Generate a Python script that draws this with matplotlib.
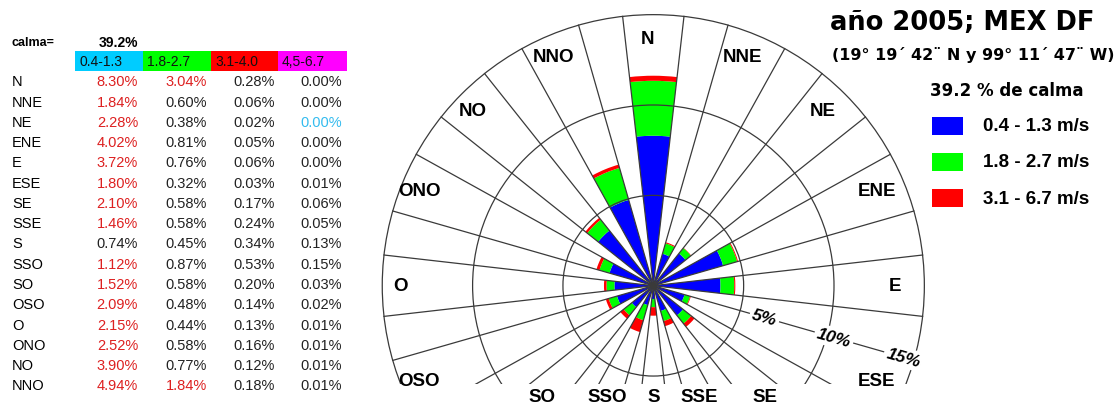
import numpy as np
import matplotlib
matplotlib.use('Agg')
import matplotlib.pyplot as plt
import matplotlib.patches as mpatches
import matplotlib.transforms as mtransforms

# wind data, % of time per direction and speed class
directions = ['N', 'NNE', 'NE', 'ENE', 'E', 'ESE', 'SE', 'SSE',
              'S', 'SSO', 'SO', 'OSO', 'O', 'ONO', 'NO', 'NNO']
class_04_13 = [8.30, 1.84, 2.28, 4.02, 3.72, 1.80, 2.10, 1.46,
               0.74, 1.12, 1.52, 2.09, 2.15, 2.52, 3.90, 4.94]
class_18_27 = [3.04, 0.60, 0.38, 0.81, 0.76, 0.32, 0.58, 0.58,
               0.45, 0.87, 0.58, 0.48, 0.44, 0.58, 0.77, 1.84]
class_31_40 = [0.28, 0.06, 0.02, 0.05, 0.06, 0.03, 0.17, 0.24,
               0.34, 0.53, 0.20, 0.14, 0.13, 0.16, 0.12, 0.18]
class_45_67 = [0.00, 0.00, 0.00, 0.00, 0.00, 0.01, 0.06, 0.05,
               0.13, 0.15, 0.03, 0.02, 0.01, 0.01, 0.01, 0.01]
calma = 39.2
table_header = ['0.4-1.3', '1.8-2.7', '3.1-4.0', '4,5-6.7']
legend_labels = ['0.4 - 1.3 m/s', '1.8 - 2.7 m/s', '3.1 - 6.7 m/s']
rings = [5, 10, 15]

W, H = 1119, 410
fig = plt.figure(figsize=(W / 100, H / 100), dpi=100)
# pixel coords (origin top-left) -> figure
pxt = mtransforms.Affine2D().scale(1 / W, -1 / H).translate(0, 1) + fig.transFigure

RED_TXT = '#dd2020'

# ---- left table ----
fig.text(12, 43, 'calma=', transform=pxt, fontsize=9, fontweight='bold',
         family='Liberation Sans', va='center', ha='left')
fig.text(138, 43, f'{calma:.1f}%', transform=pxt, fontsize=10, fontweight='bold',
         family='Liberation Sans', va='center', ha='right')

cell_cols = ['#00ccff', '#00ff00', '#ff0000', '#ff00ff']
cell_x = [75, 143, 211, 278, 347]
for i, lab in enumerate(table_header):
    fig.patches.append(mpatches.Rectangle((cell_x[i], 72), cell_x[i + 1] - cell_x[i], -20,
                                          transform=pxt, facecolor=cell_cols[i],
                                          edgecolor='none'))
    fig.text(cell_x[i] + 4, 62.5, lab, transform=pxt, fontsize=10, family='Liberation Sans',
             va='center', ha='left', color='#111111')

col_right = [138, 207, 275, 342]
cols = [class_04_13, class_18_27, class_31_40, class_45_67]
for r, d in enumerate(directions):
    y = 82.3 + r * 20.27
    fig.text(12, y, d, transform=pxt, fontsize=10.5, family='Liberation Sans',
             va='center', ha='left')
    for c in range(4):
        v = cols[c][r]
        colr = RED_TXT if v >= 1 else '#222222'
        if (d, c) == ('NE', 3):
            colr = '#33bbee'
        fig.text(col_right[c], y, f'{v:.2f}%', transform=pxt, fontsize=10.5,
                 family='Liberation Sans', va='center', ha='right', color=colr)

# ---- wind rose ----
cx, cy, scale = 653.3, 286.7, 18.07   # center in px, px per %
x0, x1, y0, y1 = 378, 928, 12, 385
ax = fig.add_axes([x0 / W, 1 - y1 / H, (x1 - x0) / W, (y1 - y0) / H])
ax.set_xlim((x0 - cx) / scale, (x1 - cx) / scale)
ax.set_ylim((cy - y1) / scale, (cy - y0) / scale)
ax.axis('off')

half = 6.5
ang = np.arange(16) * 22.5
speed_sets = [np.array(class_04_13), np.array(class_18_27),
              np.array(class_31_40) + np.array(class_45_67)]
bar_cols = ['#0000ff', '#00ff00', '#ff0000']
bottom = np.zeros(16)
for vals, col in zip(speed_sets, bar_cols):
    for k in range(16):
        if vals[k] <= 0:
            continue
        t = 90 - ang[k]
        ax.add_patch(mpatches.Wedge((0, 0), bottom[k] + vals[k], t - half, t + half,
                                    width=vals[k], facecolor=col, edgecolor='none',
                                    zorder=2))
    bottom = bottom + vals

line_kw = dict(color='#3a3a3a', lw=0.9, zorder=3)
for r in rings:
    ax.add_patch(mpatches.Circle((0, 0), r, fill=False, **line_kw))
rmax = rings[-1]
for a in ang:
    for s in (-half, half):
        th = np.radians(a + s)
        ax.plot([0, rmax * np.sin(th)], [0, rmax * np.cos(th)], **line_kw)

# direction labels, the southern ones go under the clipped rose
lab_r = 13.7
ybot = (cy - 398) / scale
for a, d in zip(ang, directions):
    th = np.radians(a)
    lx, ly = lab_r * np.sin(th) - 0.3, lab_r * np.cos(th)
    if ly < (cy - y1) / scale:
        ly = ybot
        lx = ybot * np.tan(th)
    ax.text(lx, ly, d, fontsize=13.5, fontweight='bold', family='Liberation Sans',
            ha='center', va='center', clip_on=False, zorder=5)

# ring value labels along the ESE left spoke
th = np.radians(112.5 - half)
for r in rings:
    pr = 0.8 * r + 2.4
    ax.text(pr * np.sin(th), pr * np.cos(th), f'{r}%', rotation=-(112.5 - half - 90),
            rotation_mode='anchor', fontsize=12.5, fontweight='bold', style='italic',
            family='Liberation Sans', ha='center', va='center', zorder=4,
            bbox=dict(boxstyle='square,pad=0.15', facecolor='white', edgecolor='none'))

# ---- title and legend ----
fig.text(1095, 30, 'año 2005; MEX DF', transform=pxt, fontsize=18.5, fontweight='bold',
         family='DejaVu Sans', ha='right', va='baseline')
fig.text(1115, 60, '(19° 19´ 42¨ N y 99° 11´ 47¨ W)', transform=pxt, fontsize=11.5,
         fontweight='bold', family='DejaVu Sans', ha='right', va='baseline')
fig.text(930, 91, f'{calma} % de calma', transform=pxt, fontsize=12, fontweight='bold',
         family='DejaVu Sans', ha='left', va='center')
for i, (lab, col) in enumerate(zip(legend_labels, bar_cols)):
    yc = 126.5 + i * 36.3
    fig.patches.append(mpatches.Rectangle((932, yc + 9), 31, -18, transform=pxt,
                                          facecolor=col, edgecolor='none'))
    fig.text(983, yc, lab, transform=pxt, fontsize=13.5, fontweight='bold',
             family='Liberation Sans', ha='left', va='center')

fig.savefig('out.png', dpi=100)
